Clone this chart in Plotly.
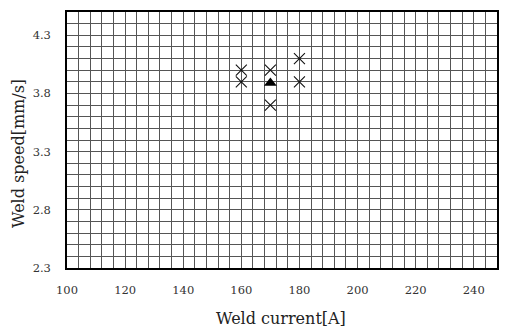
import plotly.graph_objects as go

# Data
cross_current = [160, 160, 170, 170, 180, 180]
cross_speed = [4.0, 3.9, 4.0, 3.7, 4.1, 3.9]
tri_current = [170]
tri_speed = [3.89]

x_ticks = [100, 120, 140, 160, 180, 200, 220, 240]
y_ticks = [2.3, 2.8, 3.3, 3.8, 4.3]

font_family = "DejaVu Serif"
grid_col = "#555555"

L, R, T, B = 67, 12, 12, 61
W, H = 509, 329
pw, ph = W - L - R, H - T - B

fig = go.Figure()
fig.add_trace(go.Scatter(
    x=cross_current, y=cross_speed, mode="markers",
    marker=dict(symbol="x-thin-open", size=11, color="#111",
                line=dict(color="#111", width=1.1)),
    showlegend=False, cliponaxis=False))
fig.add_trace(go.Scatter(
    x=tri_current, y=tri_speed, mode="markers",
    marker=dict(symbol="triangle-up", size=11, color="black"),
    showlegend=False, cliponaxis=False))

fig.update_layout(
    width=W, height=H,
    margin=dict(l=L, r=R, t=T, b=B),
    paper_bgcolor="white", plot_bgcolor="white",
    font=dict(family=font_family, color="#222"),
    xaxis=dict(
        range=[100, 248], tickvals=x_ticks, ticktext=[str(v) for v in x_ticks],
        showgrid=True, gridcolor=grid_col, gridwidth=1,
        minor=dict(dtick=4, tick0=100, showgrid=True, gridcolor=grid_col, gridwidth=1),
        showline=True, linecolor="black", linewidth=1.5, mirror=True,
        ticks="", ticklabelstandoff=10, zeroline=False, automargin=False,
        tickfont=dict(size=11.5, family=font_family, color="#333"),
    ),
    yaxis=dict(
        range=[2.3, 4.5], tickvals=y_ticks, ticktext=[f"{v:.1f}" for v in y_ticks],
        showgrid=True, gridcolor=grid_col, gridwidth=1,
        minor=dict(dtick=0.1, tick0=2.3, showgrid=True, gridcolor=grid_col, gridwidth=1),
        showline=True, linecolor="black", linewidth=1.5, mirror=True,
        ticks="", ticklabelstandoff=12, zeroline=False, automargin=False,
        tickfont=dict(size=11.5, family=font_family, color="#333"),
    ),
    annotations=[
        dict(text="Weld current[A]", xref="paper", yref="paper",
             x=(281 - L) / pw, y=(H - B - 318) / ph, xanchor="center", yanchor="middle",
             showarrow=False, font=dict(size=16, family=font_family, color="#222")),
        dict(text="Weld speed[mm/s]", xref="paper", yref="paper",
             x=(18 - L) / pw, y=(H - B - 154) / ph, xanchor="center", yanchor="middle",
             textangle=-90, showarrow=False,
             font=dict(size=16, family=font_family, color="#222")),
    ],
)

fig.write_html("out.html", config={"displayModeBar": False},
               post_script="document.body.style.margin='0';document.body.style.overflow='hidden';")
